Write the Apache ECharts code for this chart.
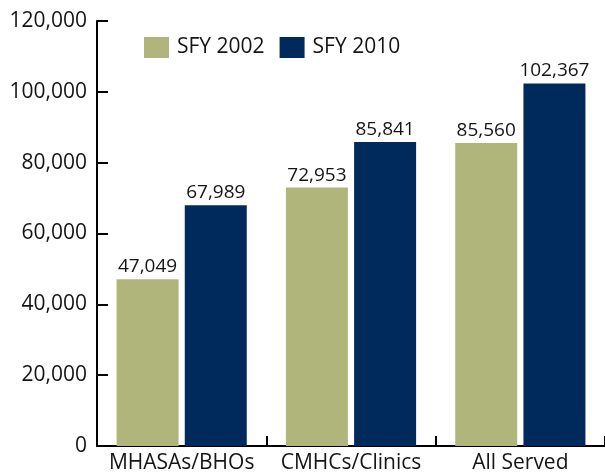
<!DOCTYPE html>
<html><head><meta charset="utf-8">
<script src="https://cdn.jsdelivr.net/npm/echarts@6/dist/echarts.min.js"></script>
<style>html,body{margin:0;padding:0;background:#fff}#c{width:605px;height:474px}</style>
</head><body><div id="c"></div>
<script>
const categories = ['MHASAs/BHOs', 'CMHCs/Clinics', 'All Served'];
const sfy2002 = [47049, 72953, 85560];
const sfy2010 = [67989, 85841, 102367];
const yTicks = [0, 20000, 40000, 60000, 80000, 100000, 120000];

const fmt = v => v.toLocaleString('en-US');
const chart = echarts.init(document.getElementById('c'));
const FONT = 'Open Sans';
const TXT = '#151515';
chart.setOption({
  animation: false,
  textStyle: { fontFamily: FONT },
  legend: {
    left: 139, top: 32, itemWidth: 25, itemHeight: 21, itemGap: 15, icon: 'rect',
    textStyle: { fontSize: 21, color: TXT, fontFamily: FONT, padding: [0, 0, 0, 3] },
    data: ['SFY 2002', 'SFY 2010']
  },
  grid: { left: 97, top: 21, width: 510, bottom: 26, containLabel: false },
  xAxis: {
    type: 'category', data: categories,
    axisLine: { lineStyle: { color: '#000', width: 2 } },
    axisTick: { show: true, inside: true, length: 10, interval: 0, lineStyle: { color: '#000', width: 2 } },
    axisLabel: { fontSize: 21, color: TXT, margin: 7, interval: 0, fontFamily: FONT }
  },
  yAxis: {
    type: 'value', min: yTicks[0], max: yTicks[yTicks.length - 1], interval: 20000,
    splitLine: { show: false },
    axisLine: { show: true, lineStyle: { color: '#000', width: 2 } },
    axisTick: { show: true, inside: true, length: 11, lineStyle: { color: '#000', width: 2 } },
    axisLabel: { fontSize: 21, color: TXT, margin: 10, formatter: v => fmt(v), fontFamily: FONT }
  },
  series: [
    { name: 'SFY 2002', type: 'bar', data: sfy2002, barWidth: 62, barGap: '10%',
      itemStyle: { color: '#b0b67b' },
      label: { show: true, position: 'top', distance: 3, fontSize: 19, color: TXT, formatter: p => fmt(p.value), fontFamily: FONT } },
    { name: 'SFY 2010', type: 'bar', data: sfy2010, barWidth: 62, barGap: '10%',
      itemStyle: { color: '#002a5c' },
      label: { show: true, position: 'top', distance: 3, fontSize: 19, color: TXT, formatter: p => fmt(p.value), fontFamily: FONT } }
  ]
});
</script></body></html>
